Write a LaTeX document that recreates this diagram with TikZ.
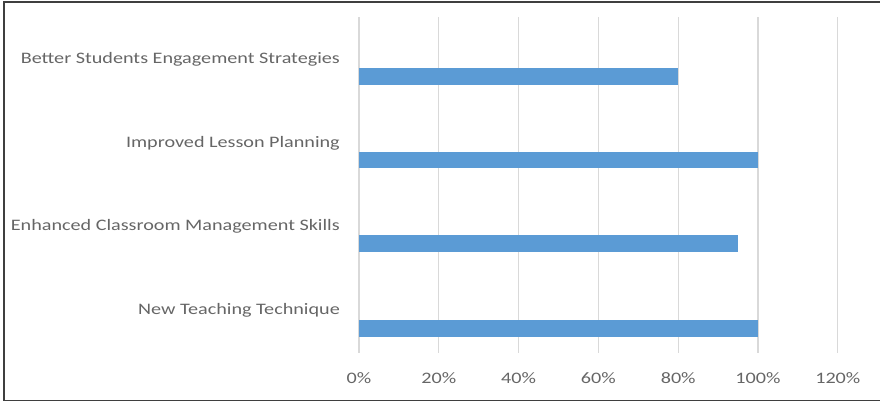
\documentclass[tikz,border=0pt]{standalone}
\usepackage{fontspec}
\setmainfont{Carlito}[FakeStretch=1.26]
\definecolor{barblue}{HTML}{5B9BD5}
\definecolor{txtgray}{HTML}{666666}
\definecolor{gridgray}{HTML}{D9D9D9}
\definecolor{frame}{HTML}{3F3F3F}
\begin{document}
\begin{tikzpicture}[x=1pt,y=-1pt,
  grid/.style={draw=gridgray,line width=1.3pt},
  cat/.style={anchor=east,text=txtgray,font=\fontsize{16}{18}\selectfont,inner sep=0pt},
  tick/.style={anchor=center,text=txtgray,font=\fontsize{16}{18}\selectfont,inner sep=0pt}]
\useasboundingbox (0,0) rectangle (880,402);
\begin{scope}
\clip (0,0) rectangle (880,402);
\draw[draw=frame,line width=1.6pt] (4,2) rectangle (884,400.5);
\end{scope}
% gridlines
\foreach \i in {0,...,6}{
  \draw[grid] ({359+\i*79.8},17) -- ({359+\i*79.8},353);
}
% bars
\fill[barblue] (359,68) rectangle ({359+0.8*399},85);
\fill[barblue] (359,151.7) rectangle ({359+1.0*399},168.3);
\fill[barblue] (359,235.3) rectangle ({359+0.95*399},252.3);
\fill[barblue] (359,319.5) rectangle ({359+1.0*399},336.5);
% category labels
\node[cat] (l1) at (340,59) {Better Students Engagement Strategies};
\node[cat] (l2) at (340,143) {Improved Lesson Planning};
\node[cat] (l3) at (340,226) {Enhanced Classroom Management Skills};
\node[cat] (l4) at (340,310) {New Teaching Technique};
% tick labels
\foreach \i/\t in {0/0\%,1/20\%,2/40\%,3/60\%,4/80\%,5/100\%,6/120\%}{
  \node[tick] (t\i) at ({359+\i*79.8},378) {\t};
}
\end{tikzpicture}
\end{document}
